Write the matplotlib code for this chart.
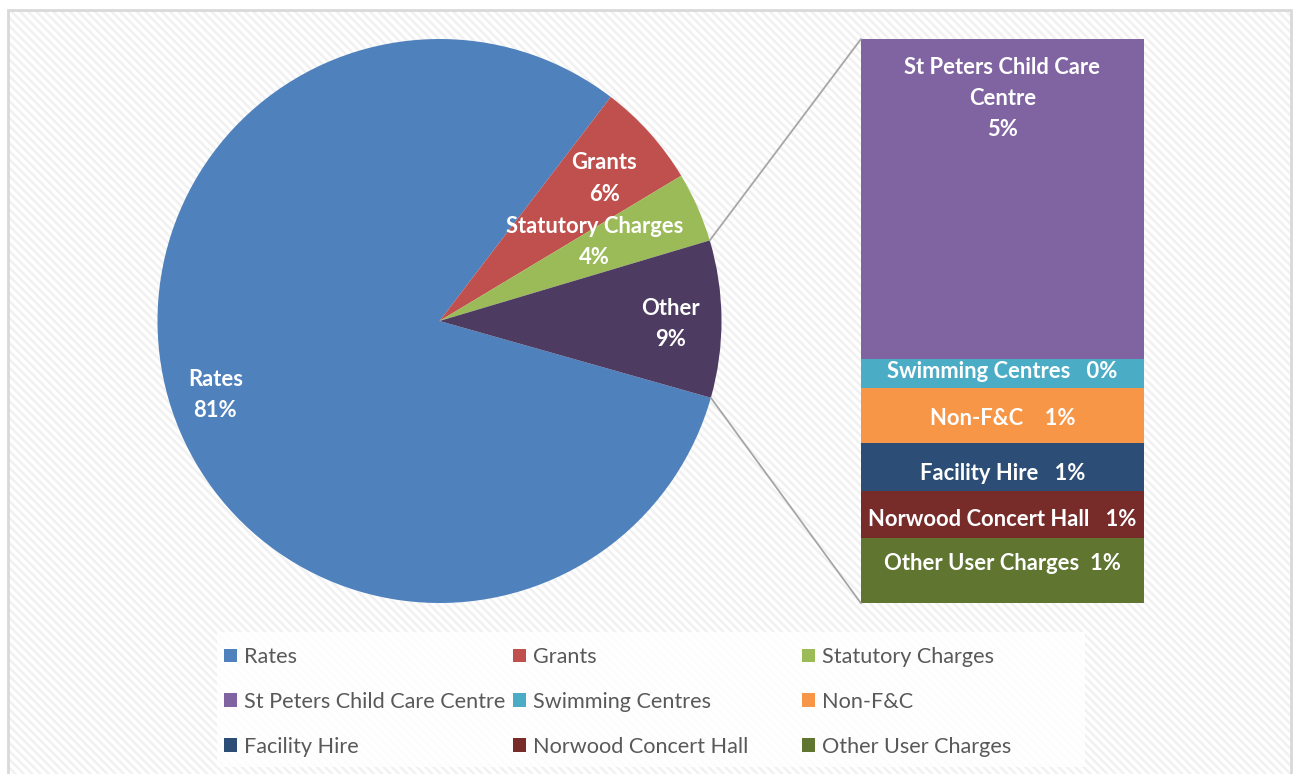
import numpy as np
import matplotlib
matplotlib.use("Agg")
import matplotlib.pyplot as plt
from matplotlib.patches import Rectangle, Patch, ConnectionPatch

plt.rcParams['font.family'] = ['Lato', 'DejaVu Sans']
plt.rcParams['hatch.linewidth'] = 1.8

# main pie (Other = sum of the breakdown below)
pie_names = ["Rates", "Grants", "Statutory Charges", "Other"]
pie_values = [81.0, 6.0, 4.0]
pie_colors = ["#4F81BD", "#C0504D", "#9BBB59", "#4D3B62"]

# breakdown of "Other", stacked bottom to top
bar_names = ["Other User Charges", "Norwood Concert Hall", "Facility Hire",
             "Non-F&C", "Swimming Centres", "St Peters Child Care Centre"]
bar_values = [1.046, 0.745, 0.766, 0.882, 0.458, 5.104]
bar_colors = ["#5F7530", "#772C2A", "#2C4D75", "#F79646", "#4BACC6", "#8064A2"]
bar_seps = ["  ", "   ", "   ", "    ", "   ", None]

W, H = 1293, 774
fig = plt.figure(figsize=(W / 100, H / 100), dpi=100)
fig.patch.set_facecolor('white')

# striped background + light border
fig.patches.append(Rectangle((8 / W, 0), 1283 / W, (H - 10) / H, transform=fig.transFigure,
                             facecolor='white', edgecolor='#f1f1f1', hatch='\\\\\\\\',
                             lw=0, zorder=-10))
fig.patches.append(Rectangle((8 / W, -0.01), 1283 / W, (H - 10) / H + 0.01,
                             transform=fig.transFigure, fill=False,
                             edgecolor='#d9d9d9', lw=2, zorder=-9))

other = sum(bar_values)
values = pie_values + [other]
total = sum(values)
start = -15.8

ax = fig.add_axes([157.5 / W, 171 / H, 564 / W, 564 / H])
ax.pie(values, colors=pie_colors, startangle=start, counterclock=False,
       radius=1.0, wedgeprops=dict(lw=0))
ax.set_xlim(-1, 1)
ax.set_ylim(-1, 1)
ax.set_aspect('auto')
ax.axis('off')

pie_label_xy = [(-0.795, -0.262), (0.585, 0.505), (0.55, 0.279), (0.82, -0.012)]
for name, v, (x, y) in zip(pie_names, values, pie_label_xy):
    ax.text(x, y, f"{name}\n{round(v / total * 100):.0f}%", ha='center', va='center',
            color='white', fontsize=15.8, fontweight='bold', linespacing=1.6)

bx = fig.add_axes([861 / W, 170.7 / H, 283 / W, 564.3 / H])
bottom = 0
for name, v, c in zip(bar_names, bar_values, bar_colors):
    bx.bar(0, v, bottom=bottom, width=1.0, color=c, lw=0)
    bottom += v
bx.set_xlim(-0.5, 0.5)
bx.set_ylim(0, other)
bx.axis('off')

# label heights (data units of the bar axis)
bar_label_y = [0.64, 1.34, 2.07, 2.94, 3.69, 8.05]
for name, v, sep, y in zip(bar_names, bar_values, bar_seps, bar_label_y):
    pct = round(v / total * 100)
    if sep is None:
        txt = f"St Peters Child Care\nCentre\n{pct:.0f}%"
    else:
        txt = f"{name}{sep}{pct:.0f}%"
    bx.text(0, y, txt, ha='center', va='center', color='white', fontsize=15.8,
            fontweight='bold', linespacing=1.6)

# connector lines from the "Other" slice to the bar
a_top = start + other / total * 360
a_bot = start
for ang, yb in [(a_top, other), (a_bot, 0)]:
    con = ConnectionPatch(xyA=(np.cos(np.radians(ang)), np.sin(np.radians(ang))), coordsA=ax.transData,
                          xyB=(-0.5, yb), coordsB=bx.transData, color='#a6a6a6', lw=1.3)
    fig.add_artist(con)

# legend
fig.patches.append(Rectangle((217 / W, (H - 767) / H), 868 / W, 135 / H,
                             transform=fig.transFigure, facecolor='white', alpha=0.85,
                             lw=0, zorder=-5))
leg_names = pie_names[:3] + bar_names[::-1]
leg_colors = pie_colors[:3] + bar_colors[::-1]
col_x = [224, 513, 802]
for i, x in enumerate(col_x):
    hs = [Patch(facecolor=leg_colors[i + 3 * r], edgecolor='none', label=leg_names[i + 3 * r])
          for r in range(3)]
    fig.legend(handles=hs, loc='center left', bbox_to_anchor=(x / W, (H - 702) / H),
               frameon=False, fontsize=15.6, labelcolor='#595959', handlelength=0.6,
               handleheight=0.6, handletextpad=0.33, labelspacing=1.15, borderpad=0,
               borderaxespad=0)

fig.savefig("out.png", dpi=100)
